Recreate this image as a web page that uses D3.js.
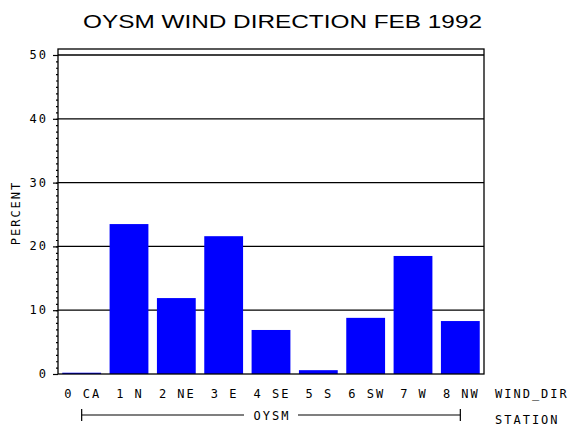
<!DOCTYPE html>
<html>
<head>
<meta charset="utf-8">
<script src="https://cdn.jsdelivr.net/npm/d3@7"></script>
<style>
  body { margin: 0; background: #fff; }
  .lbl { font-family: "DejaVu Sans Mono", monospace; font-size: 12px; letter-spacing: 2px; fill: #000; }
</style>
</head>
<body>
<div id="chart"></div>
<script>
// data
let directions = ["0 CA", "1 N", "2 NE", "3 E", "4 SE", "5 S", "6 SW", "7 W", "8 NW"];
let percents = [0.2, 23.5, 11.9, 21.6, 6.9, 0.6, 8.8, 18.5, 8.3];
let yTicks = [0, 10, 20, 30, 40, 50];
let station = "OYSM";

let totalWidth = 570, totalHeight = 430;
let margin = {top: 49, right: 86, bottom: 56, left: 58};
let width = totalWidth - margin.left - margin.right,
    height = totalHeight - margin.top - margin.bottom;

let svg = d3.select("#chart").append("svg")
    .attr("width", totalWidth)
    .attr("height", totalHeight);

let g = svg.append("g")
    .attr("transform", "translate(" + margin.left + "," + margin.top + ")");

let xScale = d3.scaleBand()
    .domain(directions)
    .range([0, width])
    .paddingInner(0.18)
    .paddingOuter(0.09);

// 50 sits a few pixels below the frame top
let yScale = d3.scaleLinear()
    .domain([0, 50])
    .range([height, 6]);

// gridlines
g.selectAll("line.grid")
    .data(yTicks.filter(d => d > 0))
    .enter().append("line")
    .attr("class", "grid")
    .attr("x1", 0).attr("x2", width)
    .attr("y1", d => yScale(d)).attr("y2", d => yScale(d))
    .attr("stroke", "#000").attr("stroke-width", 1.3);

// bars
g.selectAll("rect.bar")
    .data(percents)
    .enter().append("rect")
    .attr("class", "bar")
    .attr("x", (d, i) => xScale(directions[i]))
    .attr("y", d => yScale(d))
    .attr("width", xScale.bandwidth())
    .attr("height", d => yScale(0) - yScale(d))
    .attr("fill", "#0000ff");

// frame
g.append("rect")
    .attr("width", width).attr("height", height)
    .attr("fill", "none").attr("stroke", "#000").attr("stroke-width", 1.3);

// y axis: major + minor ticks
let yAxis = d3.axisLeft(yScale).tickValues(yTicks).tickSize(5).tickFormat("");
g.append("g").call(yAxis).call(a => a.select(".domain").remove())
    .selectAll("line").attr("stroke-width", 1.2);
let yMinor = d3.axisLeft(yScale).tickValues(d3.range(0, 51)).tickSize(2).tickFormat("");
g.append("g").call(yMinor).call(a => a.select(".domain").remove())
    .selectAll("line").attr("stroke-width", 1.2);

g.selectAll("text.ytick")
    .data(yTicks)
    .enter().append("text")
    .attr("class", "lbl")
    .attr("x", -10)
    .attr("y", d => yScale(d) + 4)
    .attr("text-anchor", "end")
    .text(d => d);

// x labels
g.selectAll("text.xtick")
    .data(directions)
    .enter().append("text")
    .attr("class", "lbl")
    .attr("x", d => xScale(d) + xScale.bandwidth() / 2 + 1)
    .attr("y", height + 24)
    .attr("text-anchor", "middle")
    .text(d => d);

svg.append("text").attr("class", "lbl")
    .attr("x", 495).attr("y", margin.top + height + 24)
    .text("WIND_DIR");
svg.append("text").attr("class", "lbl")
    .attr("x", 495).attr("y", margin.top + height + 50)
    .text("STATION");

// station bracket spans first to last band centre
let half = xScale.bandwidth() / 2;
let sx1 = margin.left + xScale(directions[0]) + half,
    sx2 = margin.left + xScale(directions[directions.length - 1]) + half,
    sy = margin.top + height + 41,
    sMid = (sx1 + sx2) / 2;
let bracket = svg.append("g").attr("stroke", "#000").attr("stroke-width", 1.2);
bracket.append("line").attr("x1", sx1).attr("x2", sMid - 27).attr("y1", sy).attr("y2", sy);
bracket.append("line").attr("x1", sMid + 27).attr("x2", sx2).attr("y1", sy).attr("y2", sy);
bracket.append("line").attr("x1", sx1).attr("x2", sx1).attr("y1", sy - 6).attr("y2", sy + 6);
bracket.append("line").attr("x1", sx2).attr("x2", sx2).attr("y1", sy - 6).attr("y2", sy + 6);
svg.append("text").attr("class", "lbl")
    .attr("x", sMid + 1).attr("y", sy + 5)
    .attr("text-anchor", "middle")
    .text(station);

// y label
svg.append("text").attr("class", "lbl")
    .attr("transform", "translate(20,213) rotate(-90)")
    .attr("text-anchor", "middle")
    .text("PERCENT");

// title
svg.append("text")
    .attr("x", 83).attr("y", 28)
    .attr("textLength", 399)
    .attr("lengthAdjust", "spacingAndGlyphs")
    .style("font-family", "'Liberation Sans', Arial, sans-serif")
    .style("font-size", "18px")
    .text("OYSM WIND DIRECTION FEB 1992");
</script>
</body>
</html>
